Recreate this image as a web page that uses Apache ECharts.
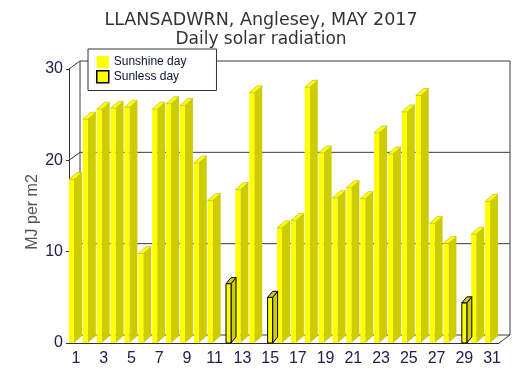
<!DOCTYPE html>
<html>
<head>
<meta charset="utf-8">
<title>Daily solar radiation</title>
<script src="https://cdn.jsdelivr.net/npm/echarts@6/dist/echarts.min.js"></script>
<style>
  html, body { margin: 0; padding: 0; background: #fff; }
  #main { width: 522px; height: 378px; }
</style>
</head>
<body>
<div id="main"></div>
<script>
// days of the month
var days = [];
for (var d = 1; d <= 31; d++) { days.push(String(d)); }

// daily solar radiation, MJ per m2
var radiation = [17.9, 24.5, 25.6, 25.7, 25.8, 9.8, 25.6, 26.2, 26.0, 19.7,
                 15.6, 6.5, 16.8, 27.4, 5.0, 12.6, 13.4, 28.0, 20.8, 15.9,
                 17.0, 15.8, 23.0, 20.7, 25.3, 27.1, 13.1, 10.9, 4.4, 11.9, 15.5];

// days without sunshine
var sunlessDays = [12, 15, 29];

// value axis ticks, also used for the back wall grid
var yTicks = [0, 10, 20, 30];

var sunData = [], sunlessData = [];
radiation.forEach(function (v, i) {
    var isSunless = sunlessDays.indexOf(i + 1) >= 0;
    sunData.push([i, isSunless ? null : v]);
    sunlessData.push([i, isSunless ? v : null]);
});

// 3d offsets
var WALL_DX = 11, WALL_DY = -8;

function renderWall(params, api) {
    var cs = params.coordSys;
    var t = api.value(1);
    var y = api.coord([0, t])[1];
    var left = cs.x, right = cs.x + cs.width;
    var line = { stroke: '#3a3a3a', lineWidth: 1 };
    var children = [
        { type: 'line', shape: { x1: left, y1: y, x2: left + WALL_DX, y2: y + WALL_DY }, style: line },
        { type: 'line', shape: { x1: left + WALL_DX, y1: y + WALL_DY, x2: right + WALL_DX, y2: y + WALL_DY }, style: line }
    ];
    if (t === 0) {
        var top = cs.y + WALL_DY;
        children.push(
            { type: 'line', shape: { x1: right, y1: y, x2: right + WALL_DX, y2: y + WALL_DY }, style: line },
            { type: 'line', shape: { x1: left + WALL_DX, y1: y + WALL_DY, x2: left + WALL_DX, y2: top }, style: line },
            { type: 'line', shape: { x1: right + WALL_DX, y1: y + WALL_DY, x2: right + WALL_DX, y2: top }, style: line }
        );
    }
    return { type: 'group', children: children };
}

function renderSun(params, api) {
    var v = api.value(1);
    if (v == null || isNaN(v)) { return; }
    var top = api.coord([api.value(0), v]);
    var base = api.coord([api.value(0), 0]);
    var cx = top[0], yt = top[1], yb = base[1];
    var x0 = cx - 7, x1 = cx - 2, dx = 8, dy = -7;
    return {
        type: 'group',
        children: [
            { type: 'polygon', shape: { points: [[x1, yt], [x1 + dx, yt + dy], [x1 + dx, yb + dy], [x1, yb]] },
              style: { fill: '#cccc00' } },
            { type: 'rect', shape: { x: x0, y: yt, width: x1 - x0, height: yb - yt },
              style: { fill: '#ffff00' } },
            { type: 'polygon', shape: { points: [[x0, yt], [x1, yt], [x1 + dx, yt + dy], [x0 + dx, yt + dy]] },
              style: { fill: '#ffff00', stroke: '#b3b300', lineWidth: 0.6 } }
        ]
    };
}

function renderSunless(params, api) {
    var v = api.value(1);
    if (v == null || isNaN(v)) { return; }
    var top = api.coord([api.value(0), v]);
    var base = api.coord([api.value(0), 0]);
    var cx = top[0], yt = top[1], yb = base[1];
    var x0 = cx - 2.5, x1 = cx + 2.5, dx = 5, dy = -6;
    return {
        type: 'group',
        children: [
            { type: 'polygon', shape: { points: [[x1, yt], [x1 + dx, yt + dy], [x1 + dx, yb + dy], [x1, yb]] },
              style: { fill: '#cccc00', stroke: '#000', lineWidth: 1 } },
            { type: 'rect', shape: { x: x0, y: yt, width: x1 - x0, height: yb - yt },
              style: { fill: '#ffff00', stroke: '#000', lineWidth: 1 } },
            { type: 'polygon', shape: { points: [[x0, yt], [x1, yt], [x1 + dx, yt + dy], [x0 + dx, yt + dy]] },
              style: { fill: '#cccc00', stroke: '#000', lineWidth: 1 } }
        ]
    };
}

var myChart = echarts.init(document.getElementById('main'));

var option = {
    backgroundColor: '#fff',
    animation: false,
    title: {
        text: 'LLANSADWRN, Anglesey, MAY 2017',
        subtext: 'Daily solar radiation',
        left: 'center',
        top: 10,
        padding: 0,
        itemGap: 0,
        textStyle: { fontFamily: 'DejaVu Sans', fontSize: 17.5, fontWeight: 'normal', color: '#333', lineHeight: 20 },
        subtextStyle: { fontFamily: 'DejaVu Sans', fontSize: 17, color: '#333', lineHeight: 20 }
    },
    legend: {
        orient: 'vertical',
        left: 88,
        top: 49,
        padding: [7, 30, 7, 8],
        itemGap: 2,
        itemWidth: 12,
        itemHeight: 12,
        backgroundColor: '#fff',
        borderColor: '#333',
        borderWidth: 1,
        borderRadius: 0,
        textStyle: { fontFamily: 'Liberation Sans', fontSize: 12, color: '#10103a' },
        data: [
            { name: 'Sunshine day', icon: 'rect', itemStyle: { color: '#ffff00', borderWidth: 0 } },
            { name: 'Sunless day', icon: 'rect', itemStyle: { color: '#ffff00', borderColor: '#000', borderWidth: 1.5 } }
        ]
    },
    grid: { left: 69, right: 23, top: 69, bottom: 35 },
    xAxis: {
        type: 'category',
        data: days,
        axisLine: { lineStyle: { color: '#333', width: 1 } },
        axisTick: { show: false },
        axisLabel: { interval: 1, margin: 8, fontFamily: 'Liberation Sans', fontSize: 16, color: '#202050' }
    },
    yAxis: {
        type: 'value',
        min: 0,
        max: 30,
        interval: 10,
        name: 'MJ per m2',
        nameLocation: 'middle',
        nameGap: 28,
        nameMoveOverlap: false,
        nameTextStyle: { fontFamily: 'Liberation Sans', fontSize: 16, color: '#555', padding: [0, 12, 0, 0] },
        axisLine: { show: true, lineStyle: { color: '#333', width: 1 } },
        axisTick: { show: true, length: 3, lineStyle: { color: '#333' } },
        splitLine: { show: false },
        axisLabel: { margin: 6, fontFamily: 'Liberation Sans', fontSize: 16, color: '#202050' }
    },
    series: [
        {
            name: 'wall',
            type: 'custom',
            z: 1,
            silent: true,
            renderItem: renderWall,
            data: yTicks.map(function (t) { return [0, t]; })
        },
        {
            name: 'Sunshine day',
            type: 'custom',
            z: 3,
            itemStyle: { color: '#ffff00' },
            renderItem: renderSun,
            data: sunData
        },
        {
            name: 'Sunless day',
            type: 'custom',
            z: 3,
            itemStyle: { color: '#ffff00' },
            renderItem: renderSunless,
            data: sunlessData
        }
    ]
};
myChart.setOption(option);
</script>
</body>
</html>
